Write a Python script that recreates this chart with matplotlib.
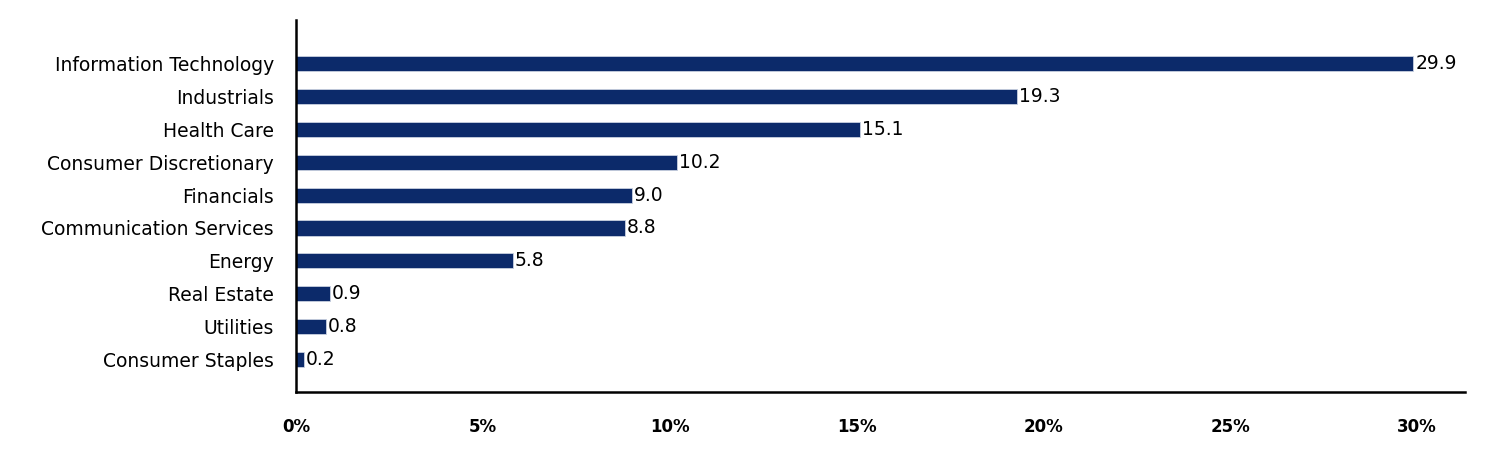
import matplotlib
matplotlib.use("Agg")
import matplotlib.pyplot as plt
from matplotlib import ticker

# sector weights (%), top to bottom
sectors = ["Information Technology", "Industrials", "Health Care",
           "Consumer Discretionary", "Financials", "Communication Services",
           "Energy", "Real Estate", "Utilities", "Consumer Staples"]
weights = [29.9, 19.3, 15.1, 10.2, 9.0, 8.8, 5.8, 0.9, 0.8, 0.2]
xticks = [0, 5, 10, 15, 20, 25, 30]

plt.rcParams['font.family'] = ['DejaVu Sans']

fig = plt.figure(figsize=(15.12, 4.68), dpi=100)
ax = fig.add_axes([0.1958, 0.1624, 0.773, 0.7949])

ys = list(range(len(sectors)))[::-1]
ax.barh(ys, weights, height=0.46, color="#0c2a6a", edgecolor="#c8d0e0", linewidth=0.6)
for y, w in zip(ys, weights):
    ax.text(w + 0.05, y, "%.1f" % w, va="center", ha="left", fontsize=13.5, color="black")

ax.set_yticks(ys)
ax.set_yticklabels(sectors, fontsize=13.5)
ax.set_ylim(-1.0, 10.34)
ax.set_xlim(0, 31.28)
ax.set_xticks(xticks)
ax.xaxis.set_major_formatter(ticker.FuncFormatter(lambda v, p: "%d%%" % v))
for lbl in ax.get_xticklabels():
    lbl.set_fontweight("bold")
    lbl.set_fontsize(12)
ax.tick_params(axis="both", length=0)
ax.tick_params(axis="x", pad=19)
ax.tick_params(axis="y", pad=16)
for s in ["top", "right"]:
    ax.spines[s].set_visible(False)
for s in ["left", "bottom"]:
    ax.spines[s].set_linewidth(1.8)
    ax.spines[s].set_color("black")

fig.savefig("out.png", dpi=100)
